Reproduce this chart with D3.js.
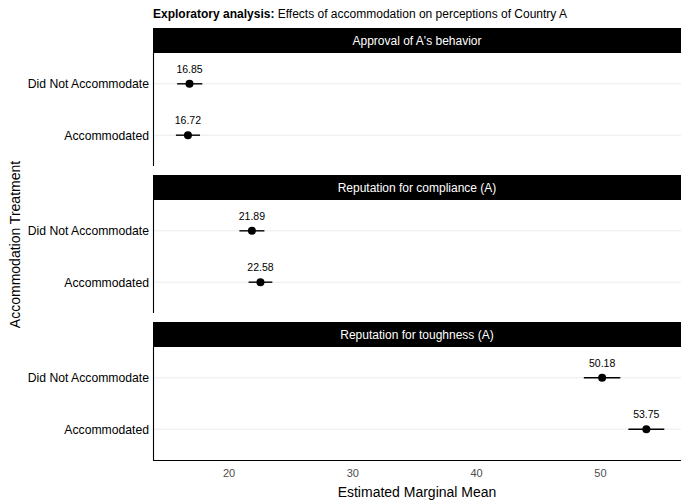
<!DOCTYPE html>
<html>
<head>
<meta charset="utf-8">
<script src="https://cdn.jsdelivr.net/npm/d3@7"></script>
<style>
  body { margin: 0; background: #fff; }
  svg { display: block; font-family: "Liberation Sans", Arial, sans-serif; }
</style>
</head>
<body>
<div id="chart"></div>
<script>
const width = 682
const height = 502

// data
const outcomes = ["Approval of A's behavior", "Reputation for compliance (A)", "Reputation for toughness (A)"]
const treatments = ["Did Not Accommodate", "Accommodated"]
const means = [[16.85, 16.72], [21.89, 22.58], [50.18, 53.75]]
const lower = [[15.85, 15.75], [20.88, 21.62], [48.70, 52.30]]
const upper = [[17.88, 17.70], [22.90, 23.54], [51.65, 55.20]]
const xTicks = [20, 30, 40, 50]

const left = 153, right = 681
const top0 = 28, stripH = 25, panelH = 113, gap = 9

const svg = d3.select("#chart")
    .append("svg")
    .attr("width", width)
    .attr("height", height)

const x = d3.scaleLinear()
    .domain([13.9, 56.55])
    .range([left, right])

/* title */
const title = svg.append("text")
    .attr("x", left)
    .attr("y", 18)
    .attr("font-size", 12)
    .attr("fill", "black")
title.append("tspan").attr("font-weight", "bold").text("Exploratory analysis:")
title.append("tspan").text(" Effects of accommodation on perceptions of Country A")

outcomes.forEach((name, k) => {
    const sTop = top0 + k * (stripH + panelH + gap)
    const pTop = sTop + stripH
    const pBot = pTop + panelH

    const y = d3.scalePoint()
        .domain(treatments)
        .range([pTop, pBot])
        .padding(0.6)

    // strip
    svg.append("rect")
        .attr("x", left)
        .attr("y", sTop)
        .attr("width", right - left)
        .attr("height", stripH)
        .attr("fill", "black")
    svg.append("text")
        .attr("x", (left + right) / 2)
        .attr("y", sTop + stripH / 2)
        .attr("dy", "0.35em")
        .attr("text-anchor", "middle")
        .attr("font-size", 12)
        .attr("fill", "white")
        .text(name)

    // grid lines
    svg.selectAll(null)
        .data(treatments)
        .enter()
        .append("line")
        .attr("x1", left)
        .attr("x2", right)
        .attr("y1", d => y(d))
        .attr("y2", d => y(d))
        .attr("stroke", "#ebebeb")
        .attr("stroke-width", 1)

    // y axis
    const yAxis = svg.append("g")
        .attr("transform", `translate(${left},0)`)
        .call(d3.axisLeft(y).tickSize(0).tickPadding(4))
    yAxis.select(".domain").attr("stroke", "black").attr("stroke-width", 1.1)
        .attr("d", `M0.5,${pTop}V${pBot}`)
    yAxis.selectAll("text").attr("font-size", 12.2).attr("fill", "black")
        .attr("font-family", "Liberation Sans, Arial, sans-serif")

    const rows = treatments.map((t, i) => ({ t, m: means[k][i], lo: lower[k][i], hi: upper[k][i] }))

    svg.selectAll(null)
        .data(rows)
        .enter()
        .append("line")
        .attr("x1", d => x(d.lo))
        .attr("x2", d => x(d.hi))
        .attr("y1", d => y(d.t))
        .attr("y2", d => y(d.t))
        .attr("stroke", "black")
        .attr("stroke-width", 1.4)

    svg.selectAll(null)
        .data(rows)
        .enter()
        .append("circle")
        .attr("cx", d => x(d.m))
        .attr("cy", d => y(d.t))
        .attr("r", 4)
        .attr("fill", "black")

    svg.selectAll(null)
        .data(rows)
        .enter()
        .append("text")
        .attr("x", d => x(d.m))
        .attr("y", d => y(d.t) - 11)
        .attr("text-anchor", "middle")
        .attr("font-size", 10.5)
        .attr("fill", "black")
        .text(d => d.m.toFixed(2))

    if (k === outcomes.length - 1) {
        const xAxis = svg.append("g")
            .attr("transform", `translate(0,${pBot})`)
            .call(d3.axisBottom(x).tickValues(xTicks).tickSize(0).tickPadding(9))
        xAxis.select(".domain").attr("stroke", "black").attr("stroke-width", 1.1)
            .attr("d", `M${left},0.5H${right}`)
        xAxis.selectAll("text").attr("font-size", 11).attr("fill", "#4d4d4d")
            .attr("font-family", "Liberation Sans, Arial, sans-serif")
    }
})

/* axis titles */
svg.append("text")
    .attr("x", (left + right) / 2)
    .attr("y", 497)
    .attr("text-anchor", "middle")
    .attr("font-size", 14)
    .attr("fill", "black")
    .text("Estimated Marginal Mean")
svg.append("text")
    .attr("transform", `translate(15,${(top0 + 461) / 2}) rotate(-90)`)
    .attr("dy", "0.35em")
    .attr("text-anchor", "middle")
    .attr("font-size", 14)
    .attr("fill", "black")
    .text("Accommodation Treatment")
</script>
</body>
</html>
